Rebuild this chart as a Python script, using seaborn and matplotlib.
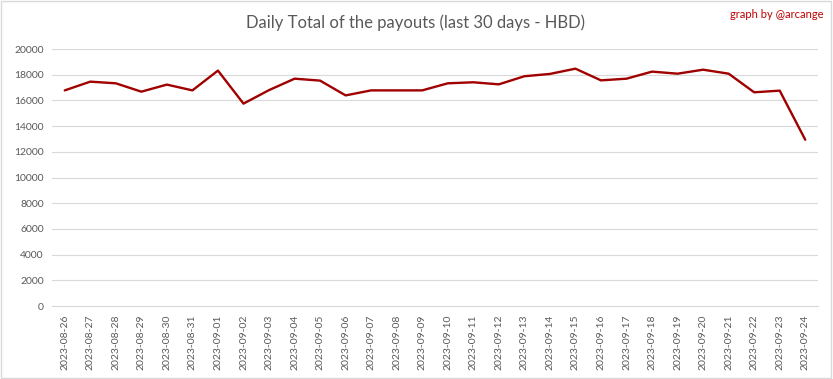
import pandas as pd
import seaborn as sns
import matplotlib.pyplot as plt
from matplotlib.patches import Rectangle

dates = ["2023-08-26", "2023-08-27", "2023-08-28", "2023-08-29", "2023-08-30",
         "2023-08-31", "2023-09-01", "2023-09-02", "2023-09-03", "2023-09-04",
         "2023-09-05", "2023-09-06", "2023-09-07", "2023-09-08", "2023-09-09",
         "2023-09-10", "2023-09-11", "2023-09-12", "2023-09-13", "2023-09-14",
         "2023-09-15", "2023-09-16", "2023-09-17", "2023-09-18", "2023-09-19",
         "2023-09-20", "2023-09-21", "2023-09-22", "2023-09-23", "2023-09-24"]
payouts = [16780, 17460, 17330, 16680, 17230, 16780, 18320, 15750, 16800, 17690,
           17540, 16390, 16780, 16780, 16780, 17330, 17410, 17250, 17880, 18060,
           18470, 17560, 17690, 18240, 18080, 18390, 18080, 16630, 16760, 12940]
y_ticks = list(range(0, 20001, 2000))

df = pd.DataFrame({"date": dates, "hbd": payouts})

sns.set_theme(style="white")
plt.rcParams['font.family'] = ['Lato', 'DejaVu Sans']

fig = plt.figure(figsize=(8.33, 3.79), dpi=100)
ax = fig.add_axes([0.0624, 0.1926, 0.9196, 0.6781])

sns.lineplot(data=df, x="date", y="hbd", color="#A00000", linewidth=1.7, ax=ax)

ax.set_xlim(-0.5, len(dates) - 0.5)
ax.set_ylim(0, 20000)
ax.set_yticks(y_ticks)
ax.set_yticklabels([str(v) for v in y_ticks])
ax.set_xticks(range(len(dates)))
ax.set_xticklabels(dates, rotation=90)
ax.tick_params(axis="both", labelsize=7.5, colors="#595959", length=0, pad=6)
ax.grid(axis="y", color="#D9D9D9", linewidth=0.8)
ax.set_axisbelow(True)
for s in ["top", "right", "left"]:
    ax.spines[s].set_visible(False)
ax.spines["bottom"].set_color("#D9D9D9")
ax.spines["bottom"].set_linewidth(0.8)
ax.set_xlabel("")
ax.set_ylabel("")

fig.text(0.499, 0.94, "Daily Total of the payouts (last 30 days - HBD)",
         ha="center", va="center", fontsize=12, color="#595959")
fig.text(0.988, 0.962, "graph by @arcange", ha="right", va="center",
         fontsize=8, color="#C00000")

fig.patches.append(Rectangle((0.001, 0.002), 0.997, 0.995, transform=fig.transFigure,
                             fill=False, edgecolor="#D9D9D9", linewidth=1))

fig.savefig("out.png", dpi=100)
